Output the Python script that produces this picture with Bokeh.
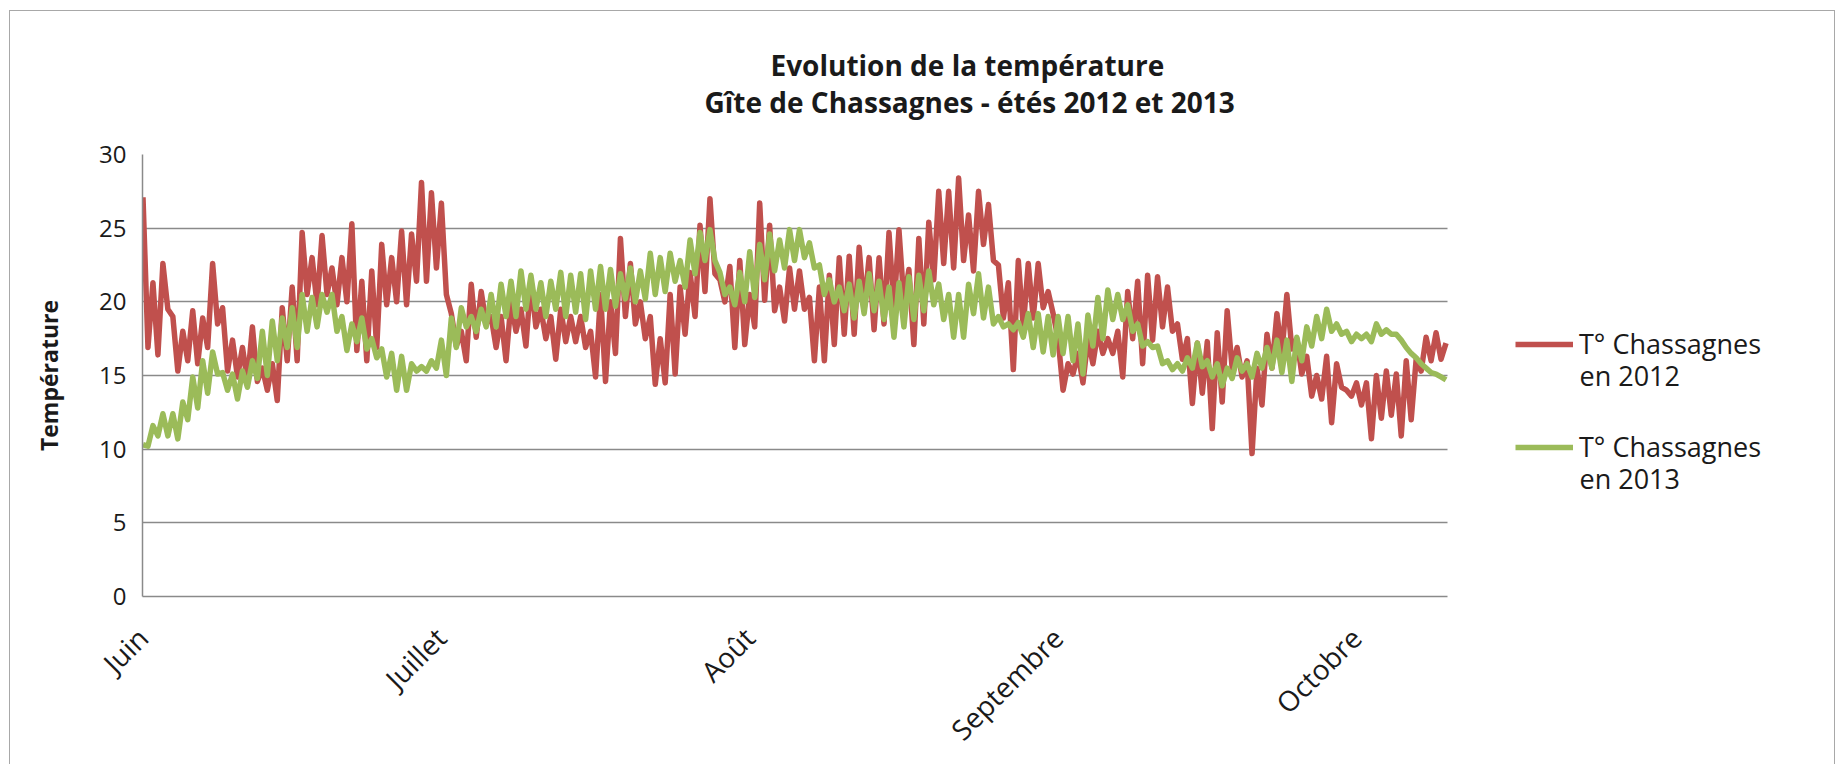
import numpy as np
from bokeh.plotting import figure
from bokeh.models import Label, Legend, LegendItem, FixedTicker, Range1d, Title
from bokeh.embed import file_html
from bokeh.resources import INLINE

# ---- data (x = days since 1 June; daily max / min) ----
month_days = [0, 30, 61, 92, 122]
month_labels = ["Juin", "Juillet", "Août", "Septembre", "Octobre"]
y_ticks = [0, 5, 10, 15, 20, 25, 30]

max2012 = [27.1, 21.3, 22.6, 19.0, 18.0, 19.4, 18.9, 22.6, 19.6, 17.4,
           16.9, 18.3, 15.5, 15.8, 19.6, 21.0, 24.7, 23.0, 24.5, 22.3,
           23.0, 25.3, 21.4, 22.1, 23.9, 23.0, 24.8, 24.6, 28.1, 27.4,
           26.7, 19.2, 18.0, 21.2, 20.7, 19.0, 19.0, 20.0, 19.5, 21.5,
           19.5, 19.0, 19.5, 19.0, 19.0, 18.0, 20.5, 20.0, 24.3, 22.6,
           20.0, 19.0, 17.5, 20.5, 21.0, 22.0, 25.2, 27.0, 21.5, 22.4,
           22.8, 20.5, 26.7, 25.2, 21.0, 22.3, 22.1, 20.3, 21.0, 21.8,
           23.0, 23.1, 23.7, 23.0, 23.0, 24.7, 24.9, 22.2, 24.3, 25.4,
           27.5, 27.5, 28.4, 25.9, 27.5, 26.6, 22.5, 21.3, 22.8, 22.6,
           22.6, 20.7, 17.5, 15.8, 16.5, 17.5, 18.0, 17.5, 18.0, 20.7,
           21.4, 21.8, 21.7, 21.0, 18.5, 17.5, 17.2, 17.3, 17.9, 19.4,
           16.9, 16.0, 15.5, 17.8, 19.2, 20.5, 17.5, 16.3, 15.0, 16.3,
           15.8, 14.0, 14.5, 14.5, 15.0, 15.3, 15.1, 16.0, 16.1, 17.6,
           17.9, 17.2]
min2012 = [16.9, 16.4, 19.5, 15.3, 16.0, 15.8, 16.9, 18.5, 15.3, 14.9,
           14.6, 14.6, 14.0, 13.3, 16.0, 16.0, 20.5, 19.8, 20.5, 19.8,
           20.0, 16.7, 16.0, 16.9, 19.8, 20.0, 19.8, 21.4, 21.4, 22.3,
           20.5, 17.0, 16.0, 17.6, 18.5, 16.9, 16.0, 18.0, 17.0, 18.3,
           17.5, 16.1, 17.3, 17.3, 16.9, 14.9, 14.6, 16.5, 19.0, 18.5,
           17.5, 14.4, 14.5, 15.1, 17.8, 19.0, 20.7, 21.9, 20.0, 16.9,
           17.1, 18.3, 20.1, 19.4, 18.7, 19.5, 19.5, 16.0, 16.0, 17.1,
           17.8, 17.8, 19.5, 18.1, 18.5, 19.5, 20.0, 17.1, 18.5, 21.5,
           22.6, 22.3, 22.8, 22.1, 23.9, 22.8, 18.9, 15.4, 18.3, 18.9,
           19.6, 19.2, 14.0, 15.1, 14.5, 15.8, 16.5, 16.5, 14.9, 17.5,
           15.8, 17.4, 18.3, 18.0, 16.1, 13.1, 13.8, 11.4, 13.2, 15.5,
           14.9, 9.7, 13.0, 15.5, 16.5, 16.8, 15.1, 13.6, 13.4, 11.8,
           14.2, 13.6, 13.0, 10.7, 12.1, 12.3, 10.9, 12.0, 15.3, 16.0,
           16.1]

max2013 = [10.3, 11.6, 12.4, 12.4, 13.2, 14.9, 16.0, 16.6, 15.2, 15.1,
           15.3, 16.0, 18.0, 18.7, 18.9, 19.6, 20.5, 20.3, 20.5, 20.5,
           19.0, 18.5, 18.9, 17.5, 16.8, 16.5, 16.3, 15.8, 15.6, 16.0,
           17.4, 18.9, 19.6, 19.0, 19.5, 20.5, 21.2, 21.4, 22.1, 21.8,
           21.3, 21.4, 22.0, 21.8, 21.9, 22.1, 22.4, 22.2, 21.9, 22.3,
           22.1, 23.3, 23.0, 23.3, 22.8, 24.2, 24.7, 24.9, 22.0, 21.0,
           22.0, 23.4, 23.9, 24.6, 24.2, 24.9, 24.9, 24.0, 22.5, 21.5,
           21.0, 21.2, 21.4, 21.9, 21.4, 21.0, 21.3, 21.7, 21.8, 22.1,
           21.2, 20.5, 20.5, 21.2, 21.9, 21.0, 19.0, 18.5, 18.6, 19.2,
           19.2, 19.0, 19.0, 19.0, 18.5, 19.1, 20.3, 20.8, 20.5, 19.8,
           18.5, 17.3, 17.0, 16.0, 15.8, 16.2, 17.2, 16.0, 15.8, 15.5,
           16.2, 15.8, 16.5, 16.9, 17.4, 17.4, 17.6, 18.3, 19.0, 19.5,
           18.5, 18.0, 17.8, 17.8, 18.5, 18.1, 17.8, 16.9, 16.2, 15.5,
           15.1, 14.7]
min2013 = [10.2, 10.9, 10.9, 10.7, 12.0, 12.8, 13.8, 15.1, 14.0, 13.4,
           14.2, 14.8, 15.0, 16.0, 16.9, 16.9, 18.0, 18.3, 19.3, 18.0,
           16.7, 17.3, 16.8, 16.2, 14.9, 14.0, 14.0, 15.3, 15.3, 15.5,
           15.0, 16.9, 18.3, 18.0, 18.3, 18.3, 19.0, 19.0, 19.5, 19.5,
           19.0, 19.5, 19.0, 19.3, 18.8, 19.5, 19.5, 19.7, 20.2, 20.0,
           20.2, 20.5, 20.7, 21.4, 21.0, 21.9, 22.8, 22.8, 20.5, 19.8,
           20.0, 20.3, 21.5, 22.1, 22.3, 22.8, 23.0, 22.3, 20.5, 20.0,
           19.4, 18.9, 19.2, 19.4, 18.8, 17.6, 18.3, 18.8, 19.4, 19.8,
           18.8, 17.6, 17.6, 19.2, 18.9, 18.5, 18.3, 18.1, 17.6, 16.9,
           16.6, 16.4, 16.5, 16.0, 15.1, 17.0, 17.5, 18.8, 18.8, 18.0,
           17.0, 16.9, 15.8, 15.4, 15.3, 15.5, 15.6, 14.9, 14.3, 14.8,
           15.3, 14.9, 15.5, 15.5, 15.2, 14.6, 16.0, 17.0, 17.5, 18.0,
           17.8, 17.3, 17.5, 17.3, 17.8, 17.8, 17.4, 16.5, 15.8, 15.2,
           14.9]

series_names = ["T° Chassagnes", "T° Chassagnes"]
series_years = ["en 2012", "en 2013"]
title_lines = ["Evolution de la température", "Gîte de Chassagnes - étés 2012 et 2013"]
y_title = "Température"


def daily_cycle(mx, mn):
    """Interleave daily maximum and minimum readings."""
    xs, ys = [], []
    for k in range(len(mx)):
        xs.append(k + 0.05)
        ys.append(mx[k])
        if k < len(mn):
            xs.append(k + 0.55)
            ys.append(mn[k])
    return np.array(xs), np.array(ys)


x12, y12 = daily_cycle(max2012, min2012)
x13, y13 = daily_cycle(max2013, min2013)

X_END = 131.2          # last visible day of the plot area
Y_TOP = 30             # top of the value axis

RED = "#c0504d"
GREEN = "#9bbb59"
GRID = "#8a8a8a"
TXT = "#1a1a1a"
FONT = "Open Sans"

# frame is widened to the right to host the legend; axis/grid are bounded to the plot area
FW, FH = 1650, 442
PLOT_W = 1305
p = figure(frame_width=FW, frame_height=FH, output_backend="svg", toolbar_location=None,
           x_range=Range1d(0, X_END * FW / PLOT_W), y_range=Range1d(0, Y_TOP))
p.min_border_left = 132
p.min_border_right = 42
p.min_border_top = 143
p.min_border_bottom = 163
p.outline_line_color = None
p.background_fill_color = "white"
p.border_fill_color = "white"
p.styles = {"border": "1px solid #a8a8a8", "box-sizing": "border-box",
            "margin-left": "9px", "margin-top": "10px"}

# horizontal grid lines limited to the plot area
grid0 = p.ygrid[0]
if "cross_bounds" in grid0.properties():
    grid0.cross_bounds = (0, X_END)
    grid0.ticker = FixedTicker(ticks=y_ticks)
    grid0.grid_line_color = GRID
    grid0.grid_line_width = 1.5
else:
    grid0.grid_line_color = None
    p.segment(x0=[0] * len(y_ticks), x1=[X_END] * len(y_ticks), y0=y_ticks, y1=y_ticks,
              line_color=GRID, line_width=1.5, level="underlay")
p.xgrid.grid_line_color = None

r12 = p.line(x12, y12, line_color=RED, line_width=5.5, line_join="round")
r13 = p.line(x13, y13, line_color=GREEN, line_width=5.5, line_join="round")

# title: two lines above the plot area, centred on the chart
p.add_layout(Title(text=title_lines[1], align="left", offset=562, standoff=68,
                   text_font=FONT, text_font_style="bold", text_font_size="28px",
                   text_color=TXT), "above")
p.add_layout(Title(text=title_lines[0], align="left", offset=628, standoff=-75,
                   text_font=FONT, text_font_style="bold", text_font_size="28px",
                   text_color=TXT), "above")

# axes
p.xaxis.bounds = (0, X_END)
p.xaxis.ticker = FixedTicker(ticks=month_days)
p.xaxis.major_label_overrides = {d: l for d, l in zip(month_days, month_labels)}
p.xaxis.major_label_orientation = np.pi / 4
p.xaxis.major_label_text_font = FONT
p.xaxis.major_label_text_font_size = "28px"
p.xaxis.major_label_text_color = TXT
p.xaxis.major_tick_line_color = None
p.xaxis.major_tick_out = 0
p.xaxis.major_tick_in = 0
p.xaxis.minor_tick_line_color = None
p.xaxis.axis_line_color = GRID
p.xaxis.axis_line_width = 1.5
p.xaxis.major_label_standoff = 36

p.yaxis.ticker = FixedTicker(ticks=y_ticks)
p.yaxis.major_label_text_font = FONT
p.yaxis.major_label_text_font_size = "24px"
p.yaxis.major_label_text_color = TXT
p.yaxis.major_tick_line_color = None
p.yaxis.major_tick_out = 0
p.yaxis.major_tick_in = 0
p.yaxis.minor_tick_line_color = None
p.yaxis.axis_line_color = GRID
p.yaxis.axis_line_width = 1.5
p.yaxis.major_label_standoff = 16
p.yaxis.axis_label = y_title
p.yaxis.axis_label_text_font = FONT
p.yaxis.axis_label_text_font_style = "bold"
p.yaxis.axis_label_text_font_size = "23px"
p.yaxis.axis_label_text_color = TXT
p.yaxis.axis_label_standoff = 31

# legend (inside the widened frame, right of the plot area)
legend = Legend(items=[LegendItem(label=series_names[0], renderers=[r12]),
                       LegendItem(label=series_names[1], renderers=[r13])],
                location=(1373, 131), orientation="vertical",
                glyph_width=58, glyph_height=36, label_height=36,
                label_standoff=6, spacing=66, padding=0,
                border_line_color=None, background_fill_alpha=0,
                label_text_font=FONT, label_text_font_size="27px",
                label_text_color=TXT)
p.add_layout(legend, "center")
for txt, yy in zip(series_years, [221, 118]):
    p.add_layout(Label(x=1437, y=yy, x_units="screen", y_units="screen", text=txt,
                       text_align="left", text_baseline="middle",
                       text_font=FONT, text_font_size="27px", text_color=TXT))

open("out.html", "w").write(file_html(p, INLINE))
